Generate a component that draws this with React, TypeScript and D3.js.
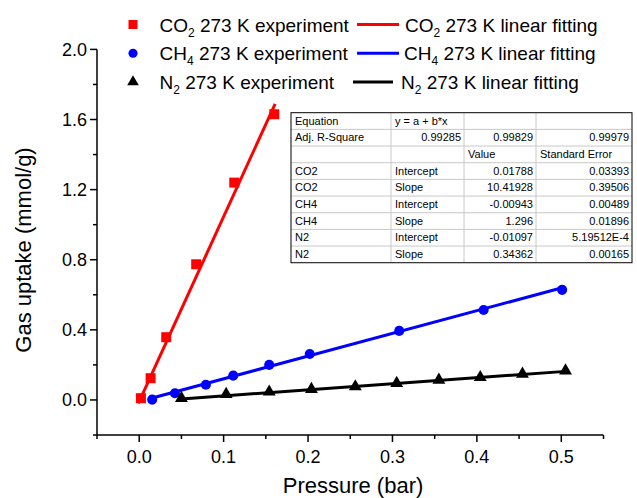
import React from "react"
import * as d3 from "d3"

// ── Data ───────────────────────────────────────────────────────────────────────

const co2X = [0.002, 0.0135, 0.032, 0.0675, 0.1126, 0.16]
const co2Y = [0.01, 0.124, 0.358, 0.774, 1.24, 1.63]
const ch4X = [0.0154, 0.0423, 0.079, 0.1114, 0.154, 0.202, 0.308, 0.408, 0.501]
const ch4Y = [0.002, 0.038, 0.087, 0.139, 0.2, 0.262, 0.394, 0.513, 0.628]
const n2X = [0.05, 0.103, 0.154, 0.204, 0.256, 0.305, 0.355, 0.404, 0.454, 0.505]
const n2Y = [0.01, 0.033, 0.046, 0.061, 0.076, 0.095, 0.114, 0.129, 0.148, 0.167]

// fitted line end points [x, y]
const co2Fit: [number, number][] = [[-0.001, -0.019], [0.161, 1.689]]
const ch4Fit: [number, number][] = [[0.0154, 0.011], [0.501, 0.64]]
const n2Fit: [number, number][] = [[0.05, 0.006], [0.505, 0.163]]

const xMajor = [0, 0.1, 0.2, 0.3, 0.4, 0.5]
const xMinor = [-0.05, 0.05, 0.15, 0.25, 0.35, 0.45, 0.55]
const yMajor = [0, 0.4, 0.8, 1.2, 1.6, 2.0]
const yMinor = [-0.2, 0.2, 0.6, 1.0, 1.4, 1.8]

const tableRows = [
  ["Equation", "y = a + b*x", "", ""],
  ["Adj. R-Square", "0.99285", "0.99829", "0.99979"],
  ["", "", "Value", "Standard Error"],
  ["CO2", "Intercept", "0.01788", "0.03393"],
  ["CO2", "Slope", "10.41928", "0.39506"],
  ["CH4", "Intercept", "-0.00943", "0.00489"],
  ["CH4", "Slope", "1.296", "0.01896"],
  ["N2", "Intercept", "-0.01097", "5.19512E-4"],
  ["N2", "Slope", "0.34362", "0.00165"],
]

const FONT = "'Liberation Sans', Arial, Helvetica, sans-serif"

const W = 637
const H = 498

export default function App() {
  const x = d3.scaleLinear().domain([-0.05, 0.55]).range([97, 603.5])
  const y = d3.scaleLinear().domain([-0.2, 2.0]).range([435, 49.4])

  const line = d3
    .line<[number, number]>()
    .x(d => x(d[0]))
    .y(d => y(d[1]))

  const sq = d3.symbol(d3.symbolSquare, 100)()
  const circ = d3.symbol(d3.symbolCircle, 80)()
  const tri = d3.symbol(d3.symbolTriangle, 72)()

  const series = [
    { xs: co2X, ys: co2Y, fit: co2Fit, color: "#ff0000", path: sq, gas: ["CO", "2"] },
    { xs: ch4X, ys: ch4Y, fit: ch4Fit, color: "#0000ff", path: circ, gas: ["CH", "4"] },
    { xs: n2X, ys: n2Y, fit: n2Fit, color: "#000000", path: tri, gas: ["N", "2"] },
  ]

  // legend layout
  const legendRows = [24.5, 53.3, 82]
  const legendLine = [
    [357, 399, 405],
    [357, 399, 404],
    [353, 393, 401],
  ]

  // table layout
  const colX = [291, 391, 464, 536, 632]
  const tTop = 112.7
  const rowH = 16.67
  const rightAligned = (r: number, c: number) =>
    (r === 1 && c > 0) || (r >= 3 && c >= 2)

  return (
    <div style={{ position: "fixed", left: 0, top: 0 }}>
      <svg width={W} height={H} style={{ display: "block", background: "#fff" }} fontFamily={FONT}>
        {/* Fitted lines */}
        {series.map((s, i) => (
          <path key={`fit-${i}`} d={line(s.fit) || ""} stroke={s.color} strokeWidth={3} fill="none" />
        ))}

        {/* Experiment points */}
        {series.map((s, i) =>
          s.xs.map((v, j) => (
            <path
              key={`pt-${i}-${j}`}
              d={s.path || ""}
              transform={`translate(${x(v)},${y(s.ys[j])})`}
              fill={s.color}
            />
          )),
        )}

        {/* Axes */}
        <line x1={x(-0.05)} x2={x(0.55)} y1={y(-0.2)} y2={y(-0.2)} stroke="#000" strokeWidth={1.5} />
        <line x1={x(-0.05)} x2={x(-0.05)} y1={y(-0.2)} y2={y(2.0)} stroke="#000" strokeWidth={1.5} />

        {xMajor.map(t => (
          <g key={`xt-${t}`}>
            <line x1={x(t)} x2={x(t)} y1={y(-0.2)} y2={y(-0.2) + 7} stroke="#000" strokeWidth={1.5} />
            <text x={x(t)} y={463} textAnchor="middle" fontSize={18} fill="#000">
              {t.toFixed(1)}
            </text>
          </g>
        ))}
        {xMinor.map(t => (
          <line key={`xm-${t}`} x1={x(t)} x2={x(t)} y1={y(-0.2)} y2={y(-0.2) + 4} stroke="#000" strokeWidth={1.5} />
        ))}
        {yMajor.map(t => (
          <g key={`yt-${t}`}>
            <line x1={x(-0.05) - 7} x2={x(-0.05)} y1={y(t)} y2={y(t)} stroke="#000" strokeWidth={1.5} />
            <text x={87} y={y(t) + 6.4} textAnchor="end" fontSize={18} fill="#000">
              {t.toFixed(1)}
            </text>
          </g>
        ))}
        {yMinor.map(t => (
          <line key={`ym-${t}`} x1={x(-0.05) - 4} x2={x(-0.05)} y1={y(t)} y2={y(t)} stroke="#000" strokeWidth={1.5} />
        ))}

        {/* Axis titles */}
        <text x={353} y={493} textAnchor="middle" fontSize={22} fill="#000">
          Pressure (bar)
        </text>
        <text transform="translate(31,250) rotate(-90)" textAnchor="middle" fontSize={22} fill="#000">
          Gas uptake (mmol/g)
        </text>

        {/* Legend */}
        {series.map((s, i) => {
          const cy = legendRows[i]
          const [lx1, lx2, tx] = legendLine[i]
          const base = cy + 7
          return (
            <g key={`lg-${i}`} fontSize={19} fill="#000">
              <path d={s.path || ""} transform={`translate(133,${cy}) scale(0.9)`} fill={s.color} />
              <text x={159.5} y={base}>
                {s.gas[0]}
                <tspan fontSize={12} dy={5}>{s.gas[1]}</tspan>
                <tspan dy={-5}> 273 K experiment</tspan>
              </text>
              <line x1={lx1} x2={lx2} y1={cy} y2={cy} stroke={s.color} strokeWidth={3} />
              <text x={tx} y={base}>
                {s.gas[0]}
                <tspan fontSize={12} dy={5}>{s.gas[1]}</tspan>
                <tspan dy={-5}> 273 K linear fitting</tspan>
              </text>
            </g>
          )
        })}

        {/* Fit table */}
        <g fontSize={11} fill="#000">
          <rect x={colX[0]} y={tTop} width={colX[4] - colX[0]} height={rowH * tableRows.length} fill="#fff" />
          {tableRows.slice(1).map((_, i) => (
            <line
              key={`hr-${i}`}
              x1={colX[0]}
              x2={colX[4]}
              y1={tTop + rowH * (i + 1)}
              y2={tTop + rowH * (i + 1)}
              stroke="#c8c8c8"
              strokeWidth={1}
            />
          ))}
          {colX.slice(1, 4).map((cx, i) => (
            <line
              key={`vr-${i}`}
              x1={cx}
              x2={cx}
              y1={tTop}
              y2={tTop + rowH * tableRows.length}
              stroke="#c8c8c8"
              strokeWidth={1}
            />
          ))}
          <rect
            x={colX[0]}
            y={tTop}
            width={colX[4] - colX[0]}
            height={rowH * tableRows.length}
            fill="none"
            stroke="#000"
            strokeWidth={1}
          />
          {tableRows.map((row, r) =>
            row.map((cell, c) =>
              cell ? (
                <text
                  key={`c-${r}-${c}`}
                  x={rightAligned(r, c) ? colX[c + 1] - 3 : colX[c] + 4}
                  y={tTop + rowH * r + 12}
                  textAnchor={rightAligned(r, c) ? "end" : "start"}
                >
                  {cell}
                </text>
              ) : null,
            ),
          )}
        </g>
      </svg>
    </div>
  )
}
